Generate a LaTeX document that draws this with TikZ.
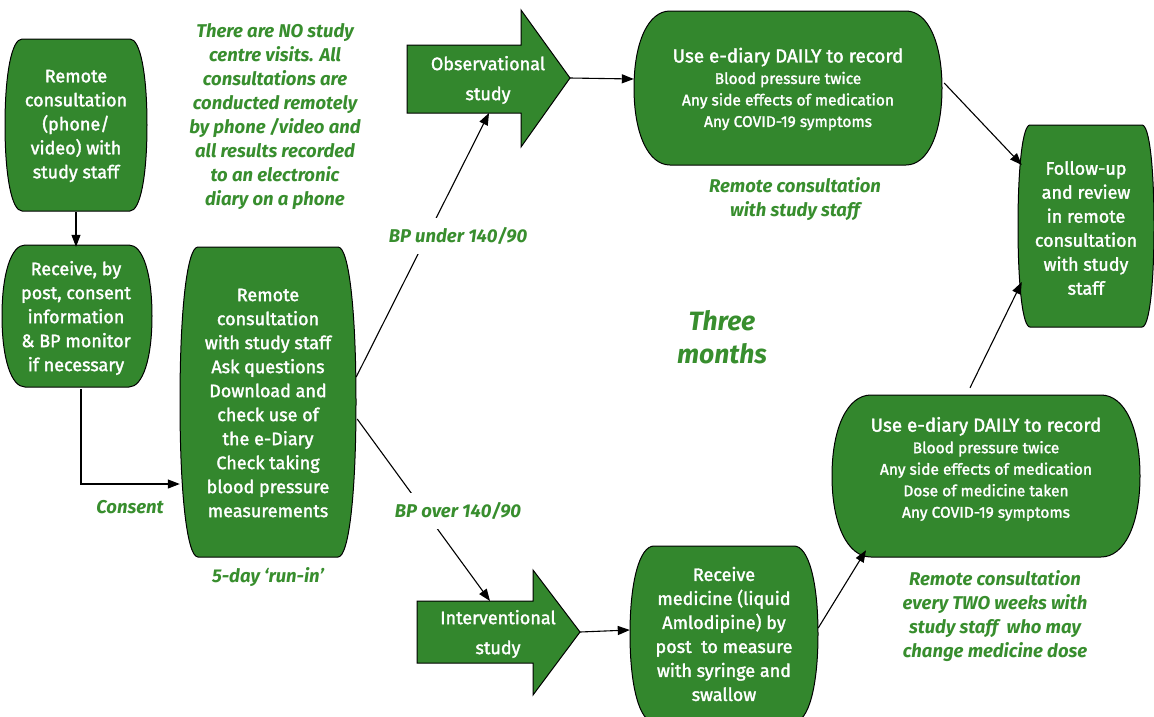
\documentclass[tikz,border=0pt]{standalone}
\usepackage{fontspec}
\setmainfont{Fira Sans}
\newfontfamily\boxfont{Fira Sans}[FakeBold=1.8]
\usetikzlibrary{arrows.meta,calc}
\definecolor{gfill}{RGB}{51,135,45}
\definecolor{gtext}{RGB}{56,142,46}
\newcommand\bulgebox[5]{%
\filldraw[bx] ({#1-#5},{#2-#4}) -- ({#1+#5},{#2-#4})
 .. controls ({#1+#5+0.6*(#3-#5)},{#2-#4}) and ({#1+#3},{#2-0.6*#4}) .. ({#1+#3},{#2})
 .. controls ({#1+#3},{#2+0.6*#4}) and ({#1+#5+0.6*(#3-#5)},{#2+#4}) .. ({#1+#5},{#2+#4})
 -- ({#1-#5},{#2+#4})
 .. controls ({#1-#5-0.6*(#3-#5)},{#2+#4}) and ({#1-#3},{#2+0.6*#4}) .. ({#1-#3},{#2})
 .. controls ({#1-#3},{#2-0.6*#4}) and ({#1-#5-0.6*(#3-#5)},{#2-#4}) .. cycle;}
\tikzset{
 bx/.style={fill=gfill, draw=black, line width=1pt},
 wt/.style={text=white, align=center, inner sep=0pt, font=\boxfont\fontsize{18}{24}\selectfont},
 wsmall/.style={text=white, align=center, inner sep=0pt, font=\boxfont\fontsize{15.5}{21.5}\selectfont},
 lab/.style={text=gtext, align=center, inner sep=0pt, font=\bfseries\itshape\fontsize{18.5}{24}\selectfont},
 con/.style={line width=1.1pt, -{Triangle[length=12pt,width=9pt]}},
}
\begin{document}
\begin{tikzpicture}[x=1pt,y=-1pt]
\useasboundingbox (0,0) rectangle (1154,716);
% shapes
\bulgebox{76}{125}{71}{86}{54}
\bulgebox{77}{316}{75}{71}{52}
\bulgebox{268}{402}{88}{155}{70}
\bulgebox{788}{88}{154}{77}{118}
\bulgebox{1086}{226}{68}{101}{56}
\bulgebox{986}{476}{154}{81}{115}
\bulgebox{724}{634}{94}{88}{70}
\filldraw[bx] (407,45) -- (521,45) -- (521,10) -- (570,78) -- (521,147) -- (521,113) -- (407,113) -- cycle;
\filldraw[bx] (417,601) -- (533,601) -- (533,570) -- (580,632) -- (533,695) -- (533,663) -- (417,663) -- cycle;
% nodes
\node[wt, minimum width=142pt, minimum height=172pt] (A) at (76,126) {Remote\\consultation\\(phone/\\video) with\\study staff};
\node[wt, minimum width=150pt, minimum height=142pt] (B) at (76,318) {Receive, by\\post, consent\\information\\\& BP monitor\\if necessary};
\node[wt, minimum width=176pt, minimum height=310pt] (C) at (268,403) {Remote\\consultation\\with study staff\\Ask questions\\Download and\\check use of\\the e-Diary\\Check taking\\blood pressure\\measurements};
\node[wsmall, minimum width=308pt, minimum height=154pt] (E) at (788,89) {{\fontsize{18.8}{21.5}\selectfont Use e-diary DAILY to record}\\Blood pressure twice\\Any side effects of medication\\Any COVID-19 symptoms};
\node[wt, minimum width=136pt, minimum height=202pt] (F) at (1086,228) {Follow-up\\and review\\in remote\\consultation\\with study\\staff};
\node[wsmall, minimum width=308pt, minimum height=162pt] (G) at (986,469) {{\fontsize{18.8}{21.5}\selectfont Use e-diary DAILY to record}\\Blood pressure twice\\Any side effects of medication\\Dose of medicine taken\\Any COVID-19 symptoms};
\node[wt, minimum width=188pt, minimum height=176pt] (H) at (724,634) {Receive\\medicine (liquid\\Amlodipine) by\\post\ \ to measure\\with syringe and\\swallow};
\node[wt, font=\boxfont\fontsize{18}{30}\selectfont] (obs) at (488,80) {Observational\\study};
\node[wt, font=\boxfont\fontsize{18}{30}\selectfont] (int) at (498,634) {Interventional\\study};
\coordinate (obsb) at (489,113);
\coordinate (obstip) at (570,78);
\coordinate (intt) at (490,601);
\coordinate (inttip) at (580,632);
% labels
\node[lab] (note) at (275,117) {There are NO study\\centre visits. All\\consultations are\\conducted remotely\\by phone /video and\\all results recorded\\to an electronic\\diary on a phone};
\node[lab] (consent) at (130,507) {Consent};
\node[lab] (runin) at (268,577) {5-day ‘run-in’};
\node[lab] (rc1) at (795,199) {Remote consultation\\with study staff};
\node[lab] (rc2) at (995,616) {Remote consultation\\every TWO weeks with\\study staff\ \ who may\\change medicine dose};
\node[lab, font=\bfseries\itshape\fontsize{26.5}{33}\selectfont] (three) at (722,337) {Three\\months};
% connectors
\draw[con] (A.south) -- (B.north);
\draw[con] ($(B.south)+(5,0)$) |- ($(C.west)+(0,81)$);
\draw[con] ($(C.east)+(0,-26)$) -- (obsb);
\draw[con] ($(C.east)+(1,16)$) -- (intt);
\node[lab, fill=white, inner xsep=4pt, inner ysep=9pt] (under) at (458,236) {BP under 140/90};
\node[lab, fill=white, inner xsep=4pt, inner ysep=9pt] (over) at (458,511) {BP over 140/90};
\draw[con] (obstip) -- ($(E.west)+(0,-10)$);
\draw[con] ($(E.east)+(2,-6)$) -- ($(F.west)+(4,-63)$);
\draw[con] (inttip) -- ($(H.west)+(0,-4)$);
\draw[con] ($(H.east)+(0,-6)$) -- ($(G.south)+(-120,0)$);
\draw[con] ($(G.north)+(-16,0)$) -- ($(F.west)+(4,54)$);
\end{tikzpicture}
\end{document}
